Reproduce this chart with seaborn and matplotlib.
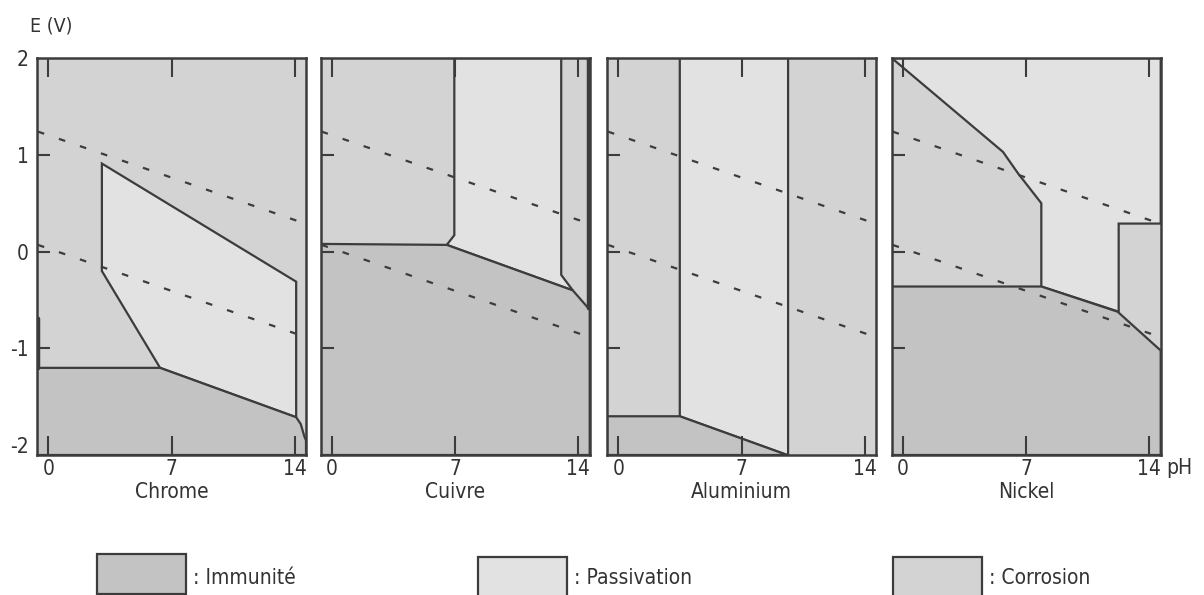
import pandas as pd
import seaborn as sns
import matplotlib.pyplot as plt
from matplotlib.patches import Rectangle

sns.set_style('ticks')
plt.rcParams['font.family'] = ['DejaVu Sans']
plt.rcParams['font.stretch'] = 'condensed'
plt.rcParams['axes.unicode_minus'] = False

# couleurs des domaines
c_immu = '#c3c3c3'
c_pass = '#e2e2e2'
c_corr = '#d3d3d3'
c_line = '#3c3c3c'
c_text = '#333333'

metals = ['Chrome', 'Cuivre', 'Aluminium', 'Nickel']
ph_ticks = [0, 7, 14]
e_ticks = [2, 1, 0, -1, -2]

# droites de l'eau (O2 en haut, H2 en bas)
water_ph = [-0.6, 14.6]
water_o2 = [1.24, 0.29]
water_h2 = [0.07, -0.88]

# Chrome
cr_pass_ph = [3.04, 14.09, 14.09, 6.35, 3.04]
cr_pass_e = [0.91, -0.31, -1.71, -1.20, -0.20]
cr_immu_ph = [-0.65, 6.35, 14.09, 14.35, 14.56, 14.65, 14.65, -0.65]
cr_immu_e = [-1.20, -1.20, -1.71, -1.78, -1.91, -1.95, -2.1, -2.1]
cr_edge_ph = [-0.6, -0.6]
cr_edge_e = [-0.68, -1.20]

# Cuivre
cu_pass_ph = [6.95, 13.03, 13.03, 13.69, 6.52, 6.95]
cu_pass_e = [2.0, 2.0, -0.24, -0.40, 0.07, 0.17]
cu_immu_ph = [-0.65, 6.52, 13.69, 14.65, 14.65, -0.65]
cu_immu_e = [0.08, 0.07, -0.40, -0.60, -2.1, -2.1]
cu_edge_ph = [14.58, 14.58]
cu_edge_e = [2.0, -0.58]

# Aluminium
al_pass_ph = [3.49, 9.65, 9.65, 9.6, 3.49]
al_pass_e = [2.0, 2.0, -2.1, -2.1, -1.70]
al_immu_ph = [-0.65, 3.49, 9.6, -0.65]
al_immu_e = [-1.70, -1.70, -2.1, -2.1]

# Nickel
ni_pass_ph = [-0.65, 14.65, 14.65, 12.26, 12.26, 7.86, 7.86, 6.53, 5.68, -0.65]
ni_pass_e = [2.0, 2.0, 0.29, 0.29, -0.62, -0.36, 0.50, 0.81, 1.03, 2.0]
ni_immu_ph = [-0.65, 7.86, 12.2, 14.52, 14.65, 14.65, -0.65]
ni_immu_e = [-0.36, -0.36, -0.62, -1.0, -1.02, -2.1, -2.1]

domains = {
    'Chrome': [(cr_pass_ph, cr_pass_e, c_pass), (cr_immu_ph, cr_immu_e, c_immu)],
    'Cuivre': [(cu_pass_ph, cu_pass_e, c_pass), (cu_immu_ph, cu_immu_e, c_immu)],
    'Aluminium': [(al_pass_ph, al_pass_e, c_pass), (al_immu_ph, al_immu_e, c_immu)],
    'Nickel': [(ni_pass_ph, ni_pass_e, c_pass), (ni_immu_ph, ni_immu_e, c_immu)],
}
edges = {
    'Chrome': [(cr_edge_ph, cr_edge_e)],
    'Cuivre': [(cu_edge_ph, cu_edge_e)],
    'Aluminium': [],
    'Nickel': [],
}

fig = plt.figure(figsize=(12.04, 5.95), dpi=100)
lefts = [37, 320.7, 607, 891.7]

for i, metal in enumerate(metals):
    ax = fig.add_axes([lefts[i] / 1204, 140 / 595, 269 / 1204, 397 / 595])
    ax.set_facecolor(c_corr)
    ax.set_axisbelow(False)

    for ph, e, col in domains[metal]:
        ax.fill(ph, e, facecolor=col, edgecolor=c_line, lw=1.6, zorder=1)
    for ph, e in edges[metal]:
        sns.lineplot(x=ph, y=e, ax=ax, color=c_line, lw=2.5, sort=False,
                     estimator=None, zorder=2)

    # droites de l'eau en pointillés
    water = pd.DataFrame({'pH': water_ph, 'O2': water_o2, 'H2': water_h2})
    for col in ['O2', 'H2']:
        sns.lineplot(data=water, x='pH', y=col, ax=ax, color=c_line, lw=1.6,
                     dashes=False, zorder=3)
        ax.lines[-1].set_dashes([3, 7])

    ax.set_xlim(-0.65, 14.65)
    ax.set_ylim(-2.1, 2.0)
    ax.set_xticks(ph_ticks)
    ax.set_yticks(e_ticks)
    ax.tick_params(axis='x', direction='in', bottom=True, top=True, length=14,
                   width=1.5, color=c_line, labelsize=15, labelcolor=c_text, pad=3)
    ax.tick_params(axis='y', direction='in', length=9, width=1.5,
                   color=c_line, labelsize=15, labelcolor=c_text, pad=6)
    # pas de trait pour 2 et -2 (ils tombent sur le cadre)
    yt = ax.yaxis.get_major_ticks()
    yt[0].tick1line.set_visible(False)
    yt[-1].tick1line.set_visible(False)
    if i > 0:
        ax.set_yticklabels([])
    ax.set_xlabel(metal, fontsize=15, color=c_text, labelpad=2)
    ax.set_ylabel('')
    for s in ax.spines.values():
        s.set_color(c_line)
        s.set_linewidth(1.8)

fig.text(30 / 1204, 1 - 26 / 595, 'E (V)', fontsize=14, color=c_text, va='center')
fig.text(1166 / 1204, 1 - 468 / 595, 'pH', fontsize=15, color=c_text, va='center')

# légende
legend = [(97, 554, c_immu, ': Immunité'), (478, 557, c_pass, ': Passivation'),
          (893, 557, c_corr, ': Corrosion')]
for x, y, col, txt in legend:
    fig.add_artist(Rectangle((x / 1204, 1 - (y + 40) / 595), 89 / 1204, 40 / 595,
                             transform=fig.transFigure, facecolor=col,
                             edgecolor=c_line, lw=1.6))
    fig.text((x + 96) / 1204, 1 - 578 / 595, txt, fontsize=15, color=c_text,
             va='center')

fig.savefig('out.png', dpi=100, facecolor='white')
